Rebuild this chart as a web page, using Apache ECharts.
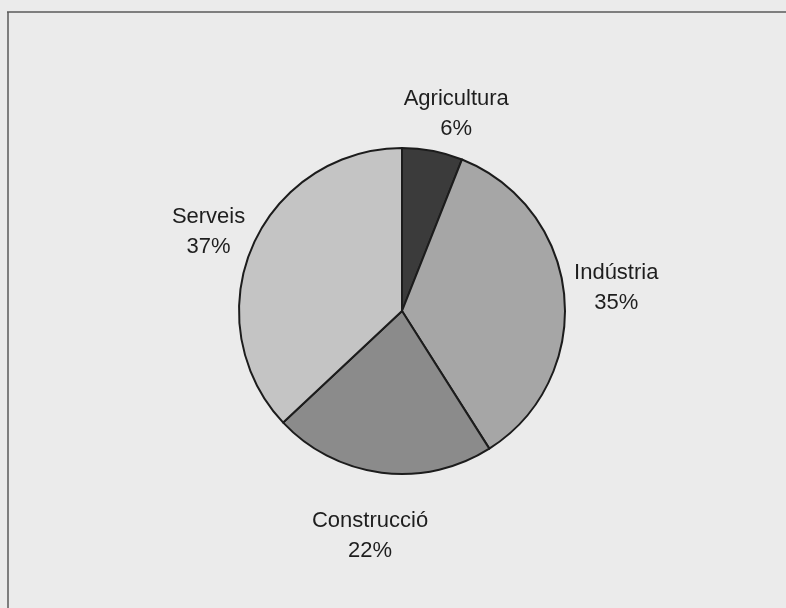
<!DOCTYPE html>
<html>
<head>
<meta charset="utf-8">
<script src="https://cdn.jsdelivr.net/npm/echarts@6/dist/echarts.min.js"></script>
<style>
  html, body { margin: 0; padding: 0; background: #ebebeb; }
  #chart { width: 786px; height: 608px; }
</style>
</head>
<body>
<div id="chart"></div>
<script>
// Sector shares (%), clockwise from 12 o'clock
const categories = ['Agricultura', 'Indústria', 'Construcció', 'Serveis'];
const values = [6, 35, 22, 37];
const sliceColors = ['#3b3b3b', '#a6a6a6', '#8b8b8b', '#c4c4c4'];

const CENTER = [402, 311];
const RADIUS = 163;
const START_ANGLE = 90;
const LABEL_GAP = 10;
// Fine adjustments of each label after radial placement (px)
const labelNudge = [[12, 2], [0, -4], [-3, 24], [-1, 2]];

const total = values.reduce((a, b) => a + b, 0);

// Place each label just outside its slice, centred on the slice's mid angle
function placeLabel(params) {
  const i = params.dataIndex;
  let before = 0;
  for (let k = 0; k < i; k++) before += values[k];
  const midDeg = START_ANGLE - (before + values[i] / 2) / total * 360;
  const a = midDeg * Math.PI / 180;
  const ux = Math.cos(a), uy = -Math.sin(a);
  const w = params.labelRect.width, h = params.labelRect.height;
  const r = RADIUS + LABEL_GAP;
  return {
    x: CENTER[0] + r * ux + ux * w / 2 + labelNudge[i][0],
    y: CENTER[1] + r * uy + uy * h / 2 + labelNudge[i][1],
    align: 'center',
    verticalAlign: 'middle'
  };
}

const chart = echarts.init(document.getElementById('chart'), null, { renderer: 'canvas' });
chart.setOption({
  backgroundColor: '#ebebeb',
  animation: false,
  graphic: [
    { type: 'line', shape: { x1: 7, y1: 12, x2: 786, y2: 12 }, style: { stroke: '#5a5a5a', lineWidth: 1.5 } },
    { type: 'line', shape: { x1: 8, y1: 12, x2: 8, y2: 608 }, style: { stroke: '#5a5a5a', lineWidth: 1.5 } }
  ],
  series: [{
    type: 'pie',
    center: CENTER,
    radius: RADIUS,
    startAngle: START_ANGLE,
    clockwise: true,
    avoidLabelOverlap: false,
    data: categories.map((name, i) => ({
      name: name,
      value: values[i],
      itemStyle: { color: sliceColors[i] }
    })),
    itemStyle: { borderColor: '#1c1c1c', borderWidth: 2 },
    label: {
      show: true,
      position: 'outside',
      formatter: '{b}\n{d}%',
      fontFamily: 'Liberation Sans, Arial, sans-serif',
      fontSize: 22,
      lineHeight: 30,
      color: '#1e1e1e',
      align: 'center'
    },
    labelLine: { show: false },
    labelLayout: placeLabel,
    emphasis: { disabled: true }
  }]
});
</script>
</body>
</html>
